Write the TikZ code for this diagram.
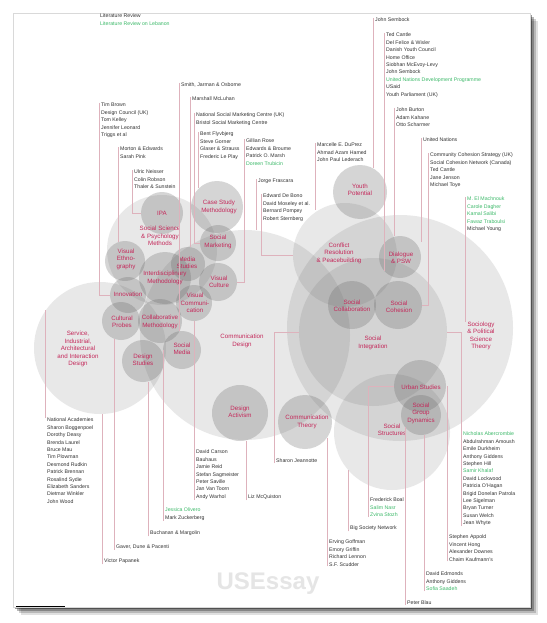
\documentclass[tikz,border=0pt]{standalone}
\usepackage{fontspec}
\setmainfont{Liberation Sans}
\usetikzlibrary{positioning}
\definecolor{topicred}{RGB}{196,40,90}
\definecolor{namegreen}{RGB}{60,185,105}
\definecolor{namegray}{RGB}{50,50,50}
\definecolor{linkpink}{RGB}{222,178,188}
\newcommand{\grn}[1]{\textcolor{namegreen}{#1}}

\begin{document}
\begin{tikzpicture}[x=1pt, y=-1pt,
  blob/.style={circle, draw=none, fill=black!60, fill opacity=0.27, inner sep=0},
  bigblob/.style={blob, fill opacity=0.15},
  topic/.style={text=topicred, align=center, inner sep=0, font=\fontsize{6.2}{7.5}\selectfont},
  names/.style={text=namegray, align=left, anchor=north west, inner sep=0, font=\fontsize{5.2}{7.4}\selectfont},
  link/.style={draw=linkpink, line width=0.45pt}]

\useasboundingbox (0,0) rectangle (546,623);
% paper and shadow
\foreach \d/\o in {8/0.12, 6/0.18, 4/0.28, 2/0.40}
  \fill[black, opacity=\o] ({13+\d},{13+\d}) rectangle ({530+\d},{607+\d});
\fill[white] (13,13) rectangle (530,607);
\draw[black!15, line width=0.4pt] (13,13) rectangle (530,607);

\begin{scope}
\clip (13,13) rectangle (530,607);

% circles
\node[bigblob, minimum size=132pt] (service) at (100,348) {};
\node[bigblob, minimum size=210pt] (commdes) at (245,335) {};
\node[bigblob, minimum size=226pt] (socio) at (400,328) {};
\node[bigblob, minimum size=110pt] (sspm) at (162,250) {};
\node[bigblob, minimum size=148pt] (sinteg) at (373,332) {};
\node[bigblob, minimum size=104pt] (conflict) at (345,255) {};
\node[bigblob, minimum size=116pt] (sstruct) at (392,432) {};
\node[blob, minimum size=42pt] (ipa) at (162,213) {};
\node[blob, minimum size=40pt] (vethno) at (125,261) {};
\node[blob, minimum size=52pt] (interd) at (165,278) {};
\node[blob, minimum size=36pt] (innov) at (128,295) {};
\node[blob, minimum size=38pt] (cprobes) at (121,321) {};
\node[blob, minimum size=44pt] (collab) at (160,321) {};
\node[blob, minimum size=42pt] (dstudies) at (143,361) {};
\node[blob, minimum size=38pt] (smedia) at (182,350) {};
\node[blob, minimum size=34pt] (mstudies) at (188,264) {};
\node[blob, minimum size=36pt] (vcomm) at (194,303) {};
\node[blob, minimum size=52pt] (casestudy) at (217,207) {};
\node[blob, minimum size=36pt] (smarket) at (218,243) {};
\node[blob, minimum size=38pt] (vculture) at (218,282) {};
\node[blob, minimum size=56pt] (dactiv) at (240,413) {};
\node[blob, minimum size=54pt] (ctheory) at (305,422) {};
\node[blob, minimum size=54pt] (youth) at (360,192) {};
\node[blob, minimum size=42pt] (dialogue) at (400,257) {};
\node[blob, minimum size=48pt] (scollab) at (352,305) {};
\node[blob, minimum size=48pt] (scohesion) at (398,305) {};
\node[blob, minimum size=52pt] (urban) at (420,386) {};
\node[blob, minimum size=40pt] (sgroup) at (421,415) {};

% topic labels
\node[topic] (service-t) at (78,349) {Service,\\Industrial,\\Architectural\\and Interaction\\Design};
\node[topic] (commdes-t) at (242,341) {Communication\\Design};
\node[topic] (socio-t) at (481,336) {Sociology\\\& Political\\Science\\Theory};
\node[topic] (sspm-t) at (160,236) {Social Science\\\& Psychology\\Methods};
\node[topic] (sinteg-t) at (373,343) {Social\\Integration};
\node[topic] (conflict-t) at (339,253) {Conflict\\Resolution\\\& Peacebuilding};
\node[topic] (sstruct-t) at (392,430) {Social\\Structures};
\node[topic] (ipa-t) at (162,213) {IPA};
\node[topic] (vethno-t) at (126,259) {Visual\\Ethno-\\graphy};
\node[topic] (interd-t) at (165,278) {Interdisciplinary\\Methodology};
\node[topic] (innov-t) at (128,294) {Innovation};
\node[topic] (cprobes-t) at (122,322) {Cultural\\Probes};
\node[topic] (collab-t) at (160,322) {Collaborative\\Methodology};
\node[topic] (dstudies-t) at (143,360) {Design\\Studies};
\node[topic] (smedia-t) at (182,349) {Social\\Media};
\node[topic] (mstudies-t) at (187,263) {Media\\Studies};
\node[topic] (vcomm-t) at (195,303) {Visual\\Communi-\\cation};
\node[topic] (casestudy-t) at (219,207) {Case Study\\Methodology};
\node[topic] (smarket-t) at (218,242) {Social\\Marketing};
\node[topic] (vculture-t) at (219,282) {Visual\\Culture};
\node[topic] (dactiv-t) at (240,412) {Design\\Activism};
\node[topic] (ctheory-t) at (307,422) {Communication\\Theory};
\node[topic] (youth-t) at (360,190) {Youth\\Potential};
\node[topic] (dialogue-t) at (401,258) {Dialogue\\\& PSW};
\node[topic] (scollab-t) at (352,306) {Social\\Collaboration};
\node[topic] (scohesion-t) at (399,307) {Social\\Cohesion};
\node[topic] (urban-t) at (421,387) {Urban Studies};
\node[topic] (sgroup-t) at (421,413) {Social\\Group\\Dynamics};

% name lists
\node[names] (lit) at (100,14) {Literature Review\\\grn{Literature Review on Lebanon}};
\node[names] (tim) at (101,103) {Tim Brown\\Design Council (UK)\\Tom Kelley\\Jennifer Leonard\\Triggs et al};
\node[names] (morton) at (120,147) {Morton \& Edwards\\Sarah Pink};
\node[names] (ulric) at (134,170) {Ulric Neisser\\Colin Robson\\Thaler \& Sunstein};
\node[names] (smith) at (181,83) {Smith, Jarman \& Osborne};
\node[names] (mcluhan) at (192,97) {Marshall McLuhan};
\node[names] (nsmc) at (196,113) {National Social Marketing Centre (UK)\\Bristol Social Marketing Centre};
\node[names] (bent) at (200,132) {Bent Flyvbjerg\\Steve Gorner\\Glaser \& Strauss\\Frederic Le Play};
\node[names] (gillian) at (246,139) {Gillian Rose\\Edwards \& Broume\\Patrick O. Marsh\\\grn{Doreen Trubicin}};
\node[names] (jorge) at (258,179) {Jorge Frascara};
\node[names] (edward) at (263,194) {Edward De Bono\\David Moseley et al.\\Bernard Pompey\\Robert Sternberg};
\node[names] (manoelle) at (317,143) {Marcelle E. DuPrez\\Ahmad Azam Hamed\\John Paul Lederach};
\node[names] (sembock) at (375,18) {John Sembock};
\node[names] (cantle) at (386,33) {Ted Cantle\\Del Felice \& Wisler\\Danish Youth Council\\Home Office\\Siobhan McEvoy-Levy\\John Sembock\\\grn{United Nations Development Programme}\\USaid\\Youth Parliament (UK)};
\node[names] (burton) at (396,108) {John Burton\\Adam Kahane\\Otto Scharmer};
\node[names] (unat) at (423,138) {United Nations};
\node[names] (ccs) at (430,153) {Community Cohesion Strategy (UK)\\Social Cohesion Network (Canada)\\Ted Cantle\\Jane Jenson\\Michael Toye};
\node[names] (machnouk) at (467,197) {\grn{M. El Machnouk}\\\grn{Carole Dagher}\\\grn{Kamal Salibi}\\\grn{Fawaz Traboulsi}\\Michael Young};
\node[names] (natacad) at (47,418) {National Academies\\Sharon Boggenpoel\\Dorothy Deasy\\Brenda Laurel\\Bruce Mau\\Tim Plowman\\Desmond Rudkin\\Patrick Brennan\\Rosalind Sydie\\Elizabeth Sanders\\Dietmar Winkler\\John Wood};
\node[names] (papanek) at (104,559) {Victor Papanek};
\node[names] (gover) at (116,545) {Gaver, Dune \& Pacenti};
\node[names] (buchanan) at (150,531) {Buchanan \& Margolin};
\node[names] (olivero) at (165,508) {\grn{Jessica Olivero}\\Mark Zuckerberg};
\node[names] (carson) at (196,450) {David Carson\\Bauhaus\\Jamie Reid\\Stefan Sagmeister\\Peter Saville\\Jan Van Toorn\\Andy Warhol};
\node[names] (mcq) at (248,495) {Liz McQuiston};
\node[names] (jeannotte) at (276,459) {Sharon Jeannotte};
\node[names] (boal) at (370,498) {Frederick Boal\\\grn{Salim Nasr}\\\grn{Zvina Stozh}};
\node[names] (bigsoc) at (350,526) {Big Society Network};
\node[names] (goffman) at (329,540) {Erving Goffman\\Emory Griffin\\Richard Lennon\\S.F. Scudder};
\node[names] (aber) at (463,432) {\grn{Nicholas Abercrombie}\\Abdulrahman Amoush\\Emile Durkheim\\Anthony Giddens\\Stephen Hill\\\grn{Samir Khalaf}\\David Lockwood\\Patricia O'Hagan\\Brigid Donelan Patrola\\Lee Sigelman\\Bryan Turner\\Susan Welch\\Jean Whyte};
\node[names] (appold) at (449,535) {Stephen Appold\\Vincent Hong\\Alexander Downes\\Chaim Kaufmann's};
\node[names] (edmonds) at (426,572) {David Edmonds\\Anthony Giddens\\\grn{Sofia Saadeh}};
\node[names] (blau) at (407,601) {Peter Blau};

% links from the lists to the circles
\draw[link] ([xshift=-2pt]tim.north west) |- (innov);
\draw[link] ([xshift=-2pt]morton.north west) coordinate (morton-bar) -- (morton-bar |- vethno.110);
\draw[link] ([xshift=-2pt]ulric.north west) |- (ipa);
\draw[link] ([xshift=-2pt]smith.north west) coordinate (smith-bar) -- (smith-bar |- smedia.100);
\draw[link] ([xshift=-2pt]mcluhan.north west) coordinate (mcluhan-bar) -- (mcluhan-bar |- mstudies.north);
\draw[link] ([xshift=-2pt]nsmc.north west) |- (smarket);
\draw[link] ([xshift=-2pt]bent.north west) coordinate (bent-bar) -- (bent-bar |- casestudy.135);
\draw[link] ([xshift=-2pt]gillian.north west) |- (vculture);
\draw[link] ([xshift=-2pt]jorge.north west) coordinate (jorge-bar) -- (jorge-bar |- commdes.north);
\draw[link] ([xshift=-2pt]edward.north west) |- (conflict);
\draw[link] ([xshift=-2pt]manoelle.north west) coordinate (manoelle-bar) -- (manoelle-bar |- conflict.120);
\draw[link] ([xshift=-2pt]sembock.north west) coordinate (sembock-bar) -- (sembock-bar |- youth.60);
\draw[link] ([xshift=-2pt]cantle.north west) coordinate (cantle-bar) -- (cantle-bar |- dialogue.220);
\draw[link] ([xshift=-2pt]burton.north west) coordinate (burton-bar) -- (burton-bar |- dialogue.north);
\draw[link] ([xshift=-2pt]unat.north west) coordinate (unat-bar) -- (unat-bar |- dialogue.45);
\draw[link] ([xshift=-2pt]ccs.north west) |- (scohesion);
\draw[link] ([xshift=-2pt]machnouk.north west) coordinate (machnouk-bar) -- (machnouk-bar |- socio-t.north);
\draw[link] ([xshift=-2pt]natacad.north west) coordinate (natacad-bar) -- (natacad-bar |- service.145);
\draw[link] ([xshift=-2pt]papanek.south west) coordinate (papanek-bar) -- (papanek-bar |- service.south);
\draw[link] ([xshift=-2pt]gover.south west) coordinate (gover-bar) -- (gover-bar |- cprobes.250);
\draw[link] ([xshift=-2pt]buchanan.south west) coordinate (buchanan-bar) -- (buchanan-bar |- dstudies.south);
\draw[link] ([xshift=-2pt]olivero.south west) coordinate (olivero-bar) -- (olivero-bar |- smedia.west);
\draw[link] ([xshift=-2pt]carson.south west) coordinate (carson-bar) -- (carson-bar |- vcomm.south);
\draw[link] ([xshift=-2pt]mcq.south west) coordinate (mcq-bar) -- (mcq-bar |- dactiv.south);
\draw[link] ([xshift=-2pt]jeannotte.south west) |- (sinteg);
\draw[link] ([xshift=-2pt]goffman.south west) coordinate (goffman-bar) -- (goffman-bar |- ctheory.325);
\draw[link] ([xshift=-2pt]bigsoc.south west) coordinate (bigsoc-bar) -- (bigsoc-bar |- sstruct.221);
\draw[link] ([xshift=-2pt]boal.south west) |- (urban);
\draw[link] ([xshift=-2pt]blau.south west) coordinate (blau-bar) -- (blau-bar |- sgroup.217);
\draw[link] ([xshift=-2pt]edmonds.south west) coordinate (edmonds-bar) -- (edmonds-bar |- sgroup.south);
\draw[link] ([xshift=-2pt]appold.south west) coordinate (appold-bar) -- (appold-bar |- urban.east);
\draw[link] ([xshift=-2pt]aber.south west) |- (sinteg);

% watermark and rule
\node[text=black!10, font=\fontsize{24}{24}\bfseries] (mark) at (268,584) {USEssay};
\draw[black, line width=0.8pt] (16,606) coordinate (rule-a) -- (65,606) coordinate (rule-b);
\end{scope}
\end{tikzpicture}
\end{document}
